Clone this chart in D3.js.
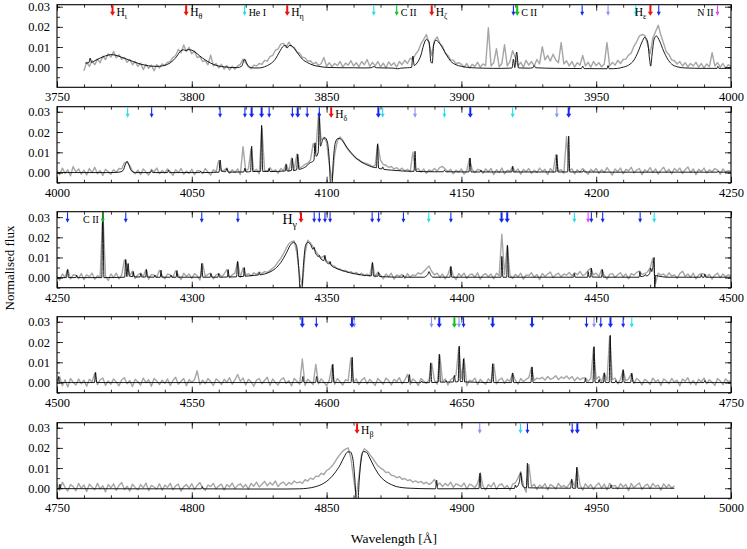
<!DOCTYPE html>
<html>
<head>
<meta charset="utf-8">
<script src="https://cdn.jsdelivr.net/npm/d3@7"></script>
<style>
body { margin: 0; background: #fff; }
text { font-family: "Liberation Serif", "DejaVu Serif", serif; }
</style>
</head>
<body>
<script>
// wavelength windows of the five panels (Angstrom)
var panelRanges = [[3750, 4000], [4000, 4250], [4250, 4500], [4500, 4750], [4750, 5000]];
var fluxDomains = [[-0.010, 0.031], [-0.005, 0.0325], [-0.005, 0.0327], [-0.005, 0.0325], [-0.005, 0.0325]];
var xTicks = [[3750, 3800, 3850, 3900, 3950, 4000], [4000, 4050, 4100, 4150, 4200, 4250],
              [4250, 4300, 4350, 4400, 4450, 4500], [4500, 4550, 4600, 4650, 4700, 4750],
              [4750, 4800, 4850, 4900, 4950, 5000]];
var yTicks = [0.00, 0.01, 0.02, 0.03];

// observed spectrum (grey), one value per Angstrom, flux in units of 1e-4
var greyStart = [3760, 4000, 4250, 4500, 4750];
var grey1 = [
 -18,25,4,32,12,40,22,55,38,66, 50,78,46,62,38,48,24,38,12,28, 4,20,-12,14,-6,10,-18,12,-4,16,
 8,24,28,48,58,88,72,110,78,98, 66,80,48,52,28,32,12,60,6,18, -4,14,-10,8,-14,4,-10,6,14,40,
 22,2,-8,10,6,18,14,34,30,52, 58,84,90,114,118,98,124,102,98,76, 68,50,46,30,32,16,24,8,18,48,
 4,22,2,18,8,28,0,20,10,32, 6,22,2,28,12,38,4,24,6,28, 2,20,-4,26,8,22,0,28,12,34,
 18,44,40,64,82,116,138,162,118,58, 132,150,118,104,70,58,36,34,18,22, 14,0,18,-4,14,4,24,0,16,8,
 196,6,22,92,2,18,112,6,28,82, 48,6,24,0,34,10,28,6,38,16, 102,36,58,30,64,36,22,122,16,32,
 6,28,0,22,10,58,6,24,0,28, 8,22,2,16,122,6,24,10,34,18, 38,40,60,70,104,126,154,162,158,116,
 66,144,176,208,158,118,76,62,36,32, 16,28,6,22,2,18,6,24,0,18, -4,16,2,72,6,22,0,18,-6,12, 4];
var grey2 = [
 8,-10,22,-4,14,-16,30,2,18,-8, 12,-12,20,0,26,-6,10,-14,16,4, -8,14,2,20,18,48,52,34,8,-6,
 12,-10,18,2,-12,16,4,22,-6,10, -2,18,6,-14,14,0,20,-8,8,-4, 16,-10,10,8,-6,20,2,-12,14,4,
 60,6,12,22,-4,14,0,18,-10,128, 8,18,118,6,16,-6,220,10,8,24, 6,14,-4,20,10,42,6,72,16,92,
 22,30,40,46,62,142,102,290,160,174, 150,40,-40,90,158,176,160,132,112,96, 82,68,64,52,48,44,38,30,34,142,
 60,40,36,26,30,18,24,12,22,8, 16,4,100,12,20,2,18,-4,14,6, 20,8,26,30,18,4,16,-6,12,2,
 18,-8,10,70,14,0,16,12,-4,18, 4,20,-10,14,0,22,-6,12,6,30, 2,18,-8,16,4,20,-4,12,0,22,
 6,16,-10,20,2,88,8,14,-4,178, 10,18,-6,14,2,20,6,-8,16,4, 20,-4,14,0,24,6,-12,18,4,22,
 -6,16,8,26,-2,12,20,-10,14,4, 24,0,18,-8,12,26,2,16,-6,20, 8,22,-4,14,28,0,18,-10,16,6,
 22,-2,14,4,20,12,-8,18,2,10, 4];
var grey3 = [
 6,-12,18,2,40,-6,14,12,-4,20, -10,14,4,22,-8,10,2,330,6,-14, 18,0,22,-6,12,88,62,10,32,-4,
 14,22,6,40,-8,16,12,4,36,10, -6,18,14,2,34,12,-10,22,6,18, -4,20,8,-12,70,6,16,22,-6,14,
 20,4,18,40,0,14,22,78,2,48, 12,20,8,24,16,28,20,30,26,36, 46,58,78,96,118,146,168,178,182,120,
 10,-40,120,186,172,152,130,112,98,108, 82,76,62,56,44,42,34,36,26,30, 20,26,14,22,10,18,8,72,4,28,
 12,-6,18,4,22,-8,14,6,16,-4, 20,2,14,10,24,18,30,44,58,30, 14,22,2,18,-6,16,54,8,-10,20,
 6,22,-4,14,18,2,24,-8,12,20, 4,18,-6,22,10,215,14,160,12,-4, 16,4,22,-8,14,10,24,2,16,-10,
 20,6,18,28,0,14,22,4,18,12, 26,8,24,14,30,10,18,36,46,14, 22,6,40,12,-8,16,20,2,14,24,
 4,18,-6,20,12,26,32,16,20,28, 48,96,-30,22,12,18,4,24,8,14, -4,20,32,6,18,2,22,-6,14,20,
 18,4,16,-8,12,22,0,18,4,14, 8];
var grey4 = [
 10,28,-16,14,-22,20,2,-12,18,-6, 12,-18,16,4,46,-10,14,22,-14,8, -8,18,2,-16,14,24,-6,10,-20,16,
 4,-12,22,0,14,-18,20,8,-10,12, -4,18,-14,10,26,-8,6,20,-16,14, 2,14,58,-10,12,-6,20,4,-14,18,
 8,-10,16,2,24,-8,14,40,6,22, -12,16,4,-18,12,20,-6,10,26,-14, 18,0,-12,14,24,-4,10,-16,20,6,
 -8,116,-14,16,4,-10,90,-6,18,2, -16,12,86,-8,20,4,-12,14,8,122, 0,18,-10,12,24,-6,16,2,-14,20,
 6,-8,22,10,-12,16,4,24,-6,12, 40,-10,18,6,-14,20,8,-4,14,96, 10,-8,136,4,18,-12,14,24,36,172,
 20,120,-16,12,6,22,-10,16,2,-8, 18,4,92,-6,14,22,-4,16,6,46, 12,-8,20,4,16,24,76,10,22,18,
 26,12,30,16,22,34,14,28,20,32, 18,30,8,26,14,22,24,6,20,172, 16,30,4,48,10,228,14,22,-6,16,
 62,8,18,44,-4,20,10,-12,16,6, -10,22,4,14,-14,18,8,-6,20,2, 12,-16,18,6,24,-8,10,-12,16,4,
 22,-6,14,2,-14,20,8,-10,18,4, 10];
var grey5 = [
 22,-10,30,4,-14,18,8,-12,24,0, 16,-16,20,6,-8,24,-4,12,-18,18, 2,22,-10,14,28,-6,10,-14,20,4,
 -8,18,2,26,-12,14,6,-4,22,-10, 16,4,24,-8,12,20,-14,8,18,0, 22,-6,14,28,2,-10,16,8,24,-4,
 12,20,-8,18,6,26,-2,14,22,4, 18,-4,24,10,30,6,20,34,12,28, 16,36,8,24,30,14,28,20,36,26,
 32,24,42,36,50,44,60,58,74,68, 88,96,110,128,150,168,184,194,200,150, 50,-40,60,170,196,186,168,150,130,112,
 100,92,78,80,64,62,52,58,44,48, 38,42,30,36,28,34,22,30,18,28, 44,14,26,8,24,12,30,4,22,16,
 8,26,-4,20,14,2,24,76,10,-8, 18,6,28,-6,16,22,0,14,-10,20, 26,50,82,14,-20,118,8,20,-6,16,
 4,22,-8,18,10,-4,24,6,14,2, 20,40,8,100,16,-10,22,4,18,-6, 14,26,0,20,-8,24,10,14,-4,22,
 6,18,-12,24,2,16,26,-6,12,20, -2,24,8,16,-10,22,4,18,0,12];

// model spectrum (black): [wavelength, flux in 1e-4]
var model1 = [[3760.5,20],[3761.8,22],[3762.3,45],[3762.8,24],[3764,32],[3766,45],[3768,56],[3770,62],[3771.5,60],[3773,54],
 [3775,44],[3777,34],[3779,24],[3781,15],[3783,9],[3785,5],[3787,4],[3789,6],[3791,14],[3793,32],[3794.5,55],[3796,82],
 [3797,86],[3797.8,82],[3798.6,87],[3800,84],[3801.5,72],[3803,55],[3805,36],[3807,20],[3809,9],[3811,3],[3813,0],[3815,-2],
 [3817,-2],[3818.5,5],[3819.6,40],[3820.5,15],[3821.5,0],[3823,-4],[3825,-4],[3827,2],[3829,15],[3831,40],[3832.5,75],
 [3834,105],[3834.8,108],[3835.4,95],[3836,106],[3836.8,108],[3838,92],[3839.5,65],[3841,40],[3843,22],[3845,10],[3847,4],
 [3849,0],[3852,-2],[3856,-3],[3860,-3],[3864,-4],[3866.5,-3],[3867.5,3],[3868.5,-3],[3872,-4],[3875,-5],[3876.3,-8],
 [3877.5,-5],[3880,-3],[3881.5,-1],[3882,55],[3882.5,8],[3883.5,20],[3885,60],[3886,110],[3887,138],[3888,125],[3888.7,25],
 [3889.2,20],[3889.7,110],[3890.5,133],[3891.5,125],[3893,95],[3894.5,60],[3896,30],[3898,12],[3900,4],[3903,-2],[3908,-5],
 [3912,-6],[3915,-6],[3918,-5],[3918.8,-4],[3919.3,40],[3919.8,-2],[3920.5,75],[3921.2,-4],[3925,-5],[3926.5,-3],[3927,8],
 [3927.5,-3],[3935,-6],[3944.5,-7],[3945,5],[3945.5,-7],[3954,-8],[3954.4,8],[3954.8,-8],[3958,-6],[3960,0],[3962,10],
 [3964,35],[3965.5,75],[3967,125],[3968,148],[3969,130],[3969.8,40],[3970.2,5],[3970.7,60],[3971.5,140],[3972.3,155],
 [3973.5,130],[3975,80],[3976.5,40],[3978,15],[3980,2],[3983,-4],[3990,-6],[3994.8,-6],[3995.1,4],[3995.5,-6],[4000,-6]];
var model2 = [[4000,0],[4010,0],[4020,0],[4023,2],[4024.5,10],[4025.5,45],[4026,55],[4026.6,40],[4027.5,10],[4029,0],
 [4034.7,0],[4035.1,10],[4035.5,0],[4041,0],[4041.3,12],[4041.7,0],[4053,0],[4053.3,6],[4053.7,0],[4060.1,2],[4060.5,62],
 [4061,8],[4062.5,4],[4063,20],[4063.5,2],[4069.3,3],[4069.7,22],[4070.1,3],[4071.8,5],[4072.2,130],[4072.6,5],[4075.5,6],
 [4075.9,233],[4076.3,6],[4078.4,5],[4078.7,20],[4079,5],[4084.7,8],[4085,40],[4085.3,8],[4086.9,10],[4087.3,70],[4087.7,10],
 [4088.9,14],[4089.3,90],[4089.7,16],[4091,20],[4092.8,35],[4093.5,45],[4095.3,60],[4095.7,147],[4096.1,80],[4096.9,100],
 [4097.3,297],[4097.7,130],[4098.5,160],[4099.4,172],[4100.3,150],[4101,60],[4101.5,-60],[4102,-60],[4102.5,60],[4103.3,150],
 [4104.2,168],[4105,167],[4106,155],[4107.5,125],[4109,100],[4110.5,78],[4112,60],[4114,44],[4116,32],[4118.5,24],[4118.9,140],
 [4119.3,22],[4120.5,18],[4120.8,28],[4121.2,16],[4124,12],[4128,8],[4132.4,6],[4132.8,105],[4133.2,6],[4140,4],[4143.3,4],
 [4143.7,12],[4144.2,4],[4152.8,3],[4153.2,72],[4153.6,3],[4157,3],[4157.3,12],[4157.6,3],[4168.7,3],[4169,30],[4169.3,3],
 [4185,3],[4185.4,88],[4185.8,3],[4189.4,3],[4189.8,180],[4190.2,3],[4195,3],[4195.3,10],[4195.6,3],[4205,2],[4230,2],
 [4245,2],[4245.3,8],[4245.6,2],[4250,2]];
var model3 = [[4250,0],[4253.5,0],[4253.9,40],[4254.3,0],[4257,0],[4257.3,12],[4257.6,0],[4266.6,0],[4267,340],[4267.4,0],
 [4275.1,2],[4275.5,90],[4275.9,5],[4276.4,70],[4276.8,8],[4278,5],[4278.3,30],[4278.6,4],[4280.8,3],[4281.1,20],[4281.4,3],
 [4282.9,3],[4283.2,40],[4283.5,3],[4286,2],[4286.3,12],[4286.6,2],[4288.3,2],[4288.6,37],[4288.9,2],[4292,2],[4292.3,12],
 [4292.6,2],[4294.2,2],[4294.5,35],[4294.8,2],[4303.3,2],[4303.7,70],[4304.1,2],[4306.8,2],[4307.1,20],[4307.4,2],[4309.7,2],
 [4310,20],[4310.3,2],[4313.2,3],[4313.5,40],[4313.8,3],[4316.6,4],[4317,80],[4317.4,5],[4319.2,6],[4319.5,50],[4319.8,7],
 [4322,10],[4324.7,13],[4325,25],[4325.3,14],[4327,18],[4329,28],[4331,45],[4333,75],[4335,120],[4336.5,160],[4337.8,175],
 [4338.8,160],[4339.6,60],[4340.2,-60],[4340.8,-60],[4341.4,60],[4342.2,160],[4343,175],[4344,165],[4345,140],[4345.4,150],
 [4345.8,125],[4347,105],[4347.3,110],[4347.6,98],[4349,85],[4349.4,110],[4349.8,80],[4351,68],[4351.3,80],[4351.6,62],
 [4354,44],[4357,30],[4360,20],[4363,13],[4366.6,9],[4367,75],[4367.4,8],[4369,7],[4369.3,25],[4369.6,6],[4372,4],[4378.2,2],
 [4378.5,12],[4378.8,2],[4386,2],[4387.5,15],[4388,30],[4388.5,15],[4389.5,2],[4395.8,2],[4396.1,55],[4396.4,2],[4414.7,2],
 [4415,105],[4415.4,2],[4416.8,2],[4417.1,160],[4417.5,2],[4441.6,2],[4441.9,20],[4442.2,2],[4446.8,2],[4447,30],[4447.4,2],
 [4447.9,3],[4448.2,47],[4448.5,3],[4452,2],[4452.3,40],[4452.6,2],[4465.9,2],[4466.2,30],[4466.5,5],[4468,10],[4468.3,15],
 [4468.6,8],[4469.8,20],[4470.2,47],[4470.6,30],[4471.1,60],[4471.5,100],[4471.7,-60],[4472,10],[4473,8],[4476,2],[4488.7,2],
 [4489,15],[4489.3,2],[4490,2],[4490.3,18],[4490.6,2],[4500,2]];
var model4 = [[4500,0],[4500.3,0],[4500.6,30],[4501,0],[4513.9,0],[4514.3,50],[4514.7,0],[4552,0],[4590.8,0],[4591.2,30],
 [4591.6,0],[4595.9,0],[4596.3,30],[4596.7,0],[4601.9,0],[4602.3,90],[4602.7,0],[4609.1,0],[4609.5,125],[4609.9,0],[4630.3,0],
 [4630.7,40],[4631.1,0],[4635,0],[4635.3,8],[4635.6,0],[4638.2,0],[4638.6,97],[4639,0],[4641.4,2],[4641.8,140],[4642.2,2],
 [4644,2],[4644.3,10],[4644.6,2],[4647,3],[4647.4,35],[4647.8,3],[4648.8,5],[4649.2,180],[4649.6,5],[4650.4,5],[4650.8,117],
 [4651.2,3],[4661.2,0],[4661.6,93],[4662,0],[4668.6,0],[4669,47],[4669.4,0],[4675.8,0],[4676.2,77],[4676.6,0],[4695.7,0],
 [4696,20],[4696.3,0],[4698.8,0],[4699.2,177],[4699.6,0],[4700.8,0],[4701.1,15],[4701.4,0],[4702.7,0],[4703,47],[4703.4,0],
 [4704.8,0],[4705.2,233],[4705.6,0],[4707,0],[4707.3,10],[4707.6,0],[4709.6,0],[4710,63],[4710.4,0],[4712.8,0],[4713.2,47],
 [4713.7,0],[4740,0],[4740.3,10],[4740.6,0],[4750,0]];
var model5 = [[4750,-2],[4750.8,-2],[4751.1,20],[4751.4,-2],[4780,-3],[4803.6,-3],[4803.9,8],[4804.2,-3],[4820,-4],[4835,-4],
 [4840,-3],[4843,0],[4846,8],[4849,25],[4851,45],[4853,75],[4855,115],[4856.5,155],[4857.8,180],[4858.8,180],[4859.8,140],
 [4860.5,40],[4861,-60],[4861.6,-60],[4862.1,40],[4862.8,140],[4863.7,182],[4864.8,178],[4866,150],[4867.5,110],[4869,75],
 [4870.5,50],[4872,33],[4874,18],[4876,8],[4878,3],[4881,0],[4885,-2],[4890.4,-3],[4890.8,40],[4891.2,-3],[4906.5,-2],
 [4906.9,74],[4907.3,-2],[4919.7,-1],[4920,16],[4920.3,5],[4921.5,30],[4922,77],[4922.5,20],[4923.5,2],[4924.1,2],[4924.5,124],
 [4924.9,2],[4940.5,0],[4940.9,45],[4941.3,0],[4942.4,0],[4942.8,104],[4943.2,0],[4955.2,0],[4955.5,16],[4955.8,0],[4979,0]];

// identified lines: [wavelength, species, strength 1..3]
var lines1 = [[3770.6,"H",3],[3797.9,"H",3],[3819.6,"HeI",2],[3835.4,"H",3],[3867.5,"HeI",2],[3876.0,"C",2],
 [3889.0,"H",3],[3919.3,"O",2],[3920.7,"C",3],[3944.8,"O",2],[3954.4,"O",1],[3964.7,"HeI",2],[3970.1,"H",3],
 [3973.2,"O",2],[3995.0,"N",2]];
var lines2 = [[4026.2,"HeI",2],[4035.1,"O",2],[4060.5,"O",2],[4069.7,"O",2],[4072.2,"O",3],[4075.9,"O",3],[4078.7,"O",2],
 [4087.3,"O",2],[4089.3,"O",3],[4092.8,"O",2],[4097.3,"O",2],[4101.7,"H",3],[4119.2,"O",3],[4120.8,"HeI",2],
 [4132.8,"O",1],[4143.7,"HeI",2],[4153.3,"O",3],[4169.0,"HeI",2],[4185.4,"O",1],[4189.8,"O",3]];
var lines3 = [[4253.9,"O",2],[4267.0,"C",2],[4275.5,"O",2],[4303.7,"O",2],[4317.1,"O",2],[4340.5,"H",3],[4345.4,"O",2],
 [4347.3,"O",2],[4349.4,"O",2],[4351.3,"O",2],[4366.9,"O",2],[4369.3,"O",2],[4378.5,"O",2],[4387.9,"HeI",2],
 [4396.1,"O",2],[4414.9,"O",3],[4417.0,"O",3],[4441.9,"HeI",2],[4447.0,"N",2],[4448.2,"O",2],[4452.4,"O",2],
 [4466.3,"O",2],[4471.5,"HeI",2]];
var lines4 = [[4591.0,"O",3],[4596.2,"O",2],[4609.4,"O",3],[4610.2,"O",1],[4638.9,"O",1],[4641.8,"O",3],[4647.4,"C",3],
 [4649.1,"O",1],[4650.8,"O",2],[4661.6,"O",3],[4676.2,"O",3],[4696.4,"O",2],[4699.2,"O",1],[4701.7,"O",2],
 [4705.3,"O",3],[4710.0,"O",2],[4713.2,"HeI",2]];
var lines5 = [[4861.3,"H",3],[4906.8,"O",1],[4921.9,"HeI",2],[4924.5,"O",2],[4941.1,"O",2],[4943.0,"O",3]];

// line labels: [panel, wavelength, text, subscript, side]
var labels = [[0,3770.6,"H","ι","right"],[0,3797.9,"H","θ","right"],[0,3819.6,"He I","","right"],
 [0,3835.4,"H","η","right"],[0,3876.0,"C II","","right"],[0,3889.0,"H","ζ","right"],[0,3920.7,"C II","","right"],
 [0,3970.1,"H","ε","left"],[0,3995.0,"N II","","left"],[1,4101.7,"H","δ","right"],[2,4267.0,"C II","","left"],
 [2,4340.5,"H","γ","big"],[4,4861.3,"H","β","right"]];

var greys = [grey1, grey2, grey3, grey4, grey5];
var models = [model1, model2, model3, model4, model5];
var lineSets = [lines1, lines2, lines3, lines4, lines5];

var speciesColour = { H: "#f01010", HeI: "#20e0f0", C: "#10c020", O: "#1428f0", N: "#f040f0" };
var UNIT = 1e-4;
var SERIF = "'Liberation Serif', 'DejaVu Serif', serif";

//layout
var width = 747, height = 549;
var left = 57, right = 731;
var panelTop = [4.7, 106.7, 211.7, 316.7, 422.7];
var panelBottom = [87.3, 182.7, 287.7, 392.7, 498.3];

var svg = d3.select("body").append("svg")
    .attr("width", width)
    .attr("height", height)
    .attr("font-family", SERIF);

panelRanges.forEach(function(range, i){
    var top = panelTop[i], bottom = panelBottom[i];
    var x = d3.scaleLinear().domain(range).range([left, right]);
    var y = d3.scaleLinear().domain(fluxDomains[i]).range([bottom, top]);
    var g = svg.append("g");

    g.append("clipPath").attr("id", "clip" + i)
        .append("rect")
        .attr("x", left).attr("y", top)
        .attr("width", right - left).attr("height", bottom - top);

    var data = g.append("g").attr("clip-path", "url(#clip" + i + ")");

    //observed spectrum
    var greyPts = greys[i].map(function(v, k){ return [greyStart[i] + k, v]; });
    var greyLine = d3.line()
        .x(function(d){ return x(d[0]); })
        .y(function(d){ return y(d[1] * UNIT); });
    data.append("path")
        .datum(greyPts)
        .attr("d", greyLine)
        .attr("fill", "none")
        .attr("stroke", "#a6a6a6")
        .attr("stroke-width", 1.4)
        .attr("stroke-linejoin", "round");

    //model
    var modelLine = d3.line()
        .curve(d3.curveMonotoneX)
        .x(function(d){ return x(d[0]); })
        .y(function(d){ return y(d[1] * UNIT); });
    data.append("path")
        .datum(models[i])
        .attr("d", modelLine)
        .attr("fill", "none")
        .attr("stroke", "#000")
        .attr("stroke-width", 0.9);

    //axes, ticks pointing inward
    var minorX = d3.range(range[0], range[1] + 1, 10);
    var minorY = d3.range(-0.005, fluxDomains[i][1], 0.005).filter(function(v){ return v >= fluxDomains[i][0] - 1e-9; });

    function styleAxis(sel){
        sel.attr("font-family", SERIF).attr("font-size", 12.5);
        sel.select(".domain").remove();
        sel.selectAll("line").attr("stroke", "#000").attr("stroke-width", 0.8);
        sel.selectAll("text").attr("fill", "#000");
    }

    g.append("g").attr("transform", "translate(0," + bottom + ")")
        .call(d3.axisBottom(x).tickValues(minorX).tickSize(-3).tickFormat(""))
        .call(styleAxis);
    g.append("g").attr("transform", "translate(0," + bottom + ")")
        .call(d3.axisBottom(x).tickValues(xTicks[i]).tickSize(-6).tickPadding(5).tickFormat(d3.format("d")))
        .call(styleAxis);
    g.append("g").attr("transform", "translate(0," + top + ")")
        .call(d3.axisTop(x).tickValues(minorX).tickSize(-3).tickFormat(""))
        .call(styleAxis);
    g.append("g").attr("transform", "translate(0," + top + ")")
        .call(d3.axisTop(x).tickValues(xTicks[i]).tickSize(-6).tickFormat(""))
        .call(styleAxis);
    g.append("g").attr("transform", "translate(" + left + ",0)")
        .call(d3.axisLeft(y).tickValues(minorY).tickSize(-3).tickFormat(""))
        .call(styleAxis);
    g.append("g").attr("transform", "translate(" + left + ",0)")
        .call(d3.axisLeft(y).tickValues(yTicks).tickSize(-6).tickPadding(7).tickFormat(d3.format(".2f")))
        .call(styleAxis);
    g.append("g").attr("transform", "translate(" + right + ",0)")
        .call(d3.axisRight(y).tickValues(minorY).tickSize(-3).tickFormat(""))
        .call(styleAxis);
    g.append("g").attr("transform", "translate(" + right + ",0)")
        .call(d3.axisRight(y).tickValues(yTicks).tickSize(-6).tickFormat(""))
        .call(styleAxis);

    g.append("rect")
        .attr("x", left).attr("y", top)
        .attr("width", right - left).attr("height", bottom - top)
        .attr("fill", "none").attr("stroke", "#000").attr("stroke-width", 1.1);

    //line markers
    lineSets[i].forEach(function(l){
        var lx = x(l[0]);
        var col = speciesColour[l[1]];
        var w = (l[1] == "H" || l[2] == 3) ? 2 : 1.1;
        var hw = (l[1] == "H" || l[2] == 3) ? 2.6 : 2;
        var op = l[2] == 1 ? 0.5 : 1;
        var m = g.append("g").attr("opacity", op);
        m.append("line")
            .attr("x1", lx).attr("x2", lx)
            .attr("y1", top + 0.5).attr("y2", top + 8)
            .attr("stroke", col).attr("stroke-width", w);
        m.append("path")
            .attr("d", "M" + (lx - hw) + "," + (top + 7) + "L" + (lx + hw) + "," + (top + 7) + "L" + lx + "," + (top + 11) + "Z")
            .attr("fill", col);
    });
});

//line labels
labels.forEach(function(lb){
    var i = lb[0];
    var x = d3.scaleLinear().domain(panelRanges[i]).range([left, right]);
    var lx = x(lb[1]);
    var big = lb[4] == "big";
    var t = svg.append("text")
        .attr("y", panelTop[i] + (big ? 12.6 : 11.3))
        .style("font-size", big ? "14px" : (lb[3] ? "11.5px" : "10px"))
        .attr("fill", "#000");
    if (lb[4] == "right") {
        t.attr("x", lx + 4);
    } else {
        t.attr("x", lx - 4).attr("text-anchor", "end");
    }
    t.append("tspan").text(lb[2]);
    if (lb[3]) {
        t.append("tspan").text(lb[3])
            .attr("dy", big ? 4 : 3)
            .style("font-size", big ? "10px" : "8px");
    }
});

//axis titles
svg.append("text")
    .attr("transform", "translate(14,268) rotate(-90)")
    .attr("text-anchor", "middle")
    .style("font-size", "13px")
    .text("Normalised flux");

svg.append("text")
    .attr("x", 394).attr("y", 543)
    .attr("text-anchor", "middle")
    .style("font-size", "13.5px")
    .text("Wavelength [Å]");
</script>
</body>
</html>
